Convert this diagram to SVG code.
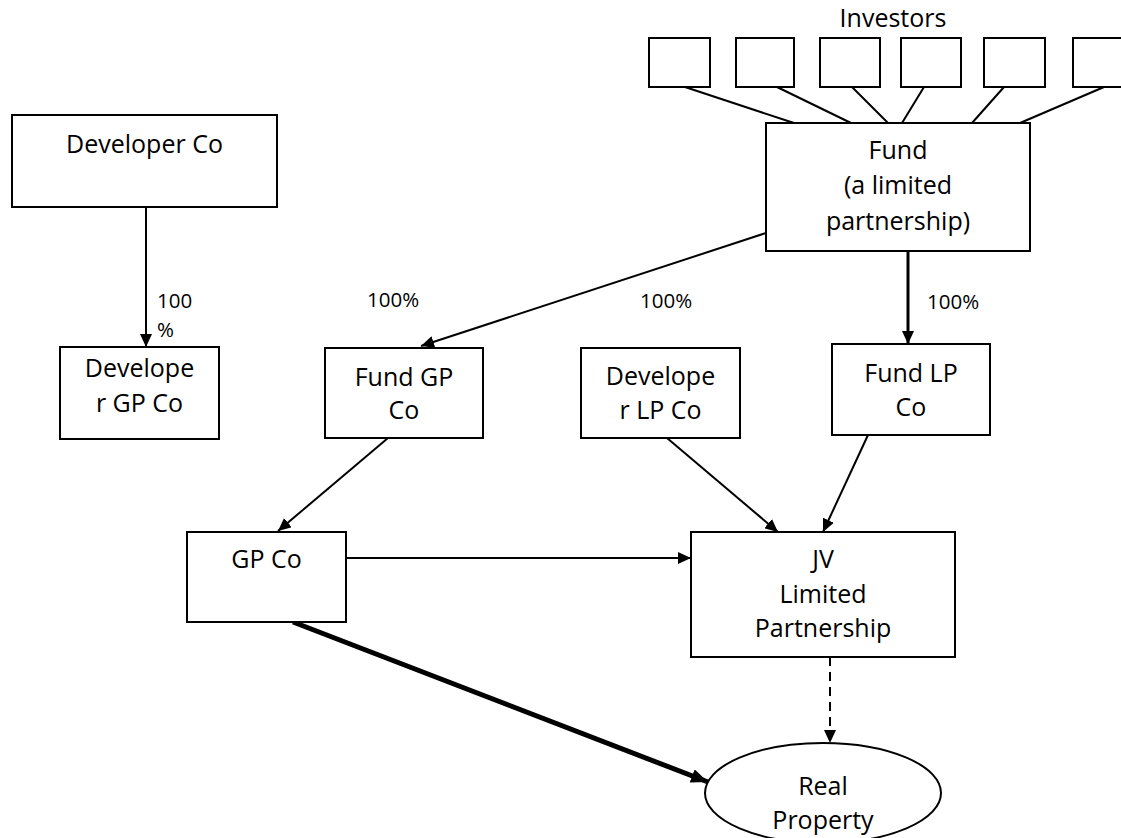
<svg xmlns="http://www.w3.org/2000/svg" width="1121" height="838" viewBox="0 0 1121 838">
<style>
.box{fill:#fff;stroke:#000;stroke-width:2}
.t{font-family:"Open Sans","Liberation Sans",sans-serif;font-size:25px;fill:#000;text-anchor:middle}
.lbl{font-family:"Open Sans","Liberation Sans",sans-serif;font-size:20.5px;fill:#000}
.c{stroke:#000;stroke-width:2;fill:none}
</style>
<defs>
<marker id="ah" markerUnits="userSpaceOnUse" markerWidth="14" markerHeight="12" refX="13" refY="6" orient="auto"><path d="M0,0 L13,6 L0,12 z" fill="#000"/></marker>
<marker id="ahb" markerUnits="userSpaceOnUse" markerWidth="18" markerHeight="14" refX="17" refY="7" orient="auto"><path d="M0,0 L17,7 L0,14 z" fill="#000"/></marker>
</defs>
<rect width="1121" height="838" fill="#fff"/>
<g id="connectors">
<line class="c" x1="685" y1="87" x2="794" y2="123"/>
<line class="c" x1="777" y1="87" x2="851" y2="123"/>
<line class="c" x1="852" y1="87" x2="888" y2="123"/>
<line class="c" x1="924" y1="87" x2="902" y2="123"/>
<line class="c" x1="1004" y1="87" x2="972" y2="123"/>
<line class="c" x1="1104" y1="87" x2="1020" y2="123"/>
<line class="c" x1="146" y1="207" x2="146" y2="347" marker-end="url(#ah)"/>
<line class="c" x1="766" y1="233" x2="421" y2="346" marker-end="url(#ah)"/>
<line class="c" style="stroke-width:3" x1="908" y1="252" x2="908" y2="344" marker-end="url(#ah)"/>
<line class="c" x1="388" y1="438" x2="278" y2="531" marker-end="url(#ah)"/>
<line class="c" x1="667" y1="438" x2="778" y2="532" marker-end="url(#ah)"/>
<line class="c" x1="868" y1="435" x2="823" y2="532" marker-end="url(#ah)"/>
<line class="c" x1="346" y1="558" x2="691" y2="558" marker-end="url(#ah)"/>
<line class="c" style="stroke-width:5" x1="293" y1="622" x2="708" y2="782" marker-end="url(#ahb)"/>
<line class="c" style="stroke-dasharray:9,6" x1="830" y1="657" x2="830" y2="743" marker-end="url(#ah)"/>
</g>
<g id="investors-label"><text class="t" x="893" y="27">Investors</text></g>
<g id="investor1"><rect class="box" x="649" y="38" width="61" height="49"/></g>
<g id="investor2"><rect class="box" x="736" y="38" width="58" height="49"/></g>
<g id="investor3"><rect class="box" x="820" y="38" width="60" height="49"/></g>
<g id="investor4"><rect class="box" x="901" y="38" width="60" height="49"/></g>
<g id="investor5"><rect class="box" x="984" y="38" width="61" height="49"/></g>
<g id="investor6"><rect class="box" x="1073" y="38" width="61" height="49"/></g>
<g id="fund"><rect class="box" x="766" y="123" width="264" height="128"/>
<text class="t" x="898" y="159">Fund</text><text class="t" x="898" y="194">(a limited</text><text class="t" x="898" y="230">partnership)</text></g>
<g id="developer-co"><rect class="box" x="12" y="115" width="265" height="92"/>
<text class="t" x="144.5" y="153">Developer Co</text></g>
<g id="developer-gp-co"><rect class="box" x="60" y="347" width="159" height="92"/>
<text class="t" x="139.5" y="377">Develope</text><text class="t" x="139.5" y="412">r GP Co</text></g>
<g id="fund-gp-co"><rect class="box" x="325" y="348" width="158" height="90"/>
<text class="t" x="404" y="386">Fund GP</text><text class="t" x="404" y="419">Co</text></g>
<g id="developer-lp-co"><rect class="box" x="581" y="348" width="159" height="90"/>
<text class="t" x="660.5" y="385">Develope</text><text class="t" x="660.5" y="419">r LP Co</text></g>
<g id="fund-lp-co"><rect class="box" x="832" y="344" width="158" height="91"/>
<text class="t" x="911" y="382">Fund LP</text><text class="t" x="911" y="416">Co</text></g>
<g id="gp-co"><rect class="box" x="187" y="532" width="159" height="90"/>
<text class="t" x="266.5" y="568">GP Co</text></g>
<g id="jv"><rect class="box" x="691" y="532" width="264" height="125"/>
<text class="t" x="823" y="568">JV</text><text class="t" x="823" y="603">Limited</text><text class="t" x="823" y="637">Partnership</text></g>
<g id="real-property"><ellipse cx="823" cy="793" rx="118" ry="50" fill="#fff" stroke="#000" stroke-width="2"/>
<text class="t" x="823" y="795">Real</text><text class="t" x="823" y="829">Property</text></g>
<g id="labels">
<text class="lbl" x="157" y="308">100</text><text class="lbl" x="157" y="337">%</text>
<text class="lbl" x="367" y="307">100%</text>
<text class="lbl" x="640" y="308">100%</text>
<text class="lbl" x="927" y="309">100%</text>
</g>
</svg>
